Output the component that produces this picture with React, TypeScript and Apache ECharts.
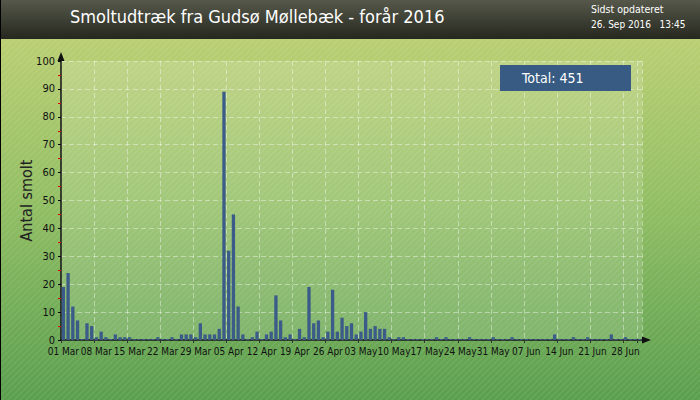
import React, { useEffect, useRef } from "react";
import * as echarts from "echarts";

const TITLE = "Smoltudtræk fra Gudsø Møllebæk - forår 2016";
const UPDATED_LABEL = "Sidst opdateret";
const UPDATED_TIME = "26. Sep 2016   13:45";
const Y_NAME = "Antal smolt";
const TOTAL_PREFIX = "Total: ";
const MONTHS = ["Jan", "Feb", "Mar", "Apr", "May", "Jun", "Jul", "Aug", "Sep", "Oct", "Nov", "Dec"];
const START_YEAR = 2016;
const START_MONTH = 2; // March (0-based)

// Daily smolt counts, 1 Mar - 1 Jul 2016
const marchCounts = [19, 24, 12, 7, 0, 6, 5, 1, 3, 1, 0, 2, 1, 1, 1, 0, 0, 0, 0, 0, 1, 0, 0, 1, 0, 2, 2, 2, 1, 6, 2];
const aprilCounts = [2, 2, 4, 89, 32, 45, 12, 2, 0, 1, 3, 0, 2, 3, 16, 7, 1, 2, 0, 4, 1, 19, 6, 7, 1, 3, 18, 3, 8, 5];
const mayCounts = [6, 2, 3, 10, 4, 5, 4, 4, 1, 0, 1, 1, 0, 0, 0, 0, 0, 0, 1, 0, 1, 0, 0, 0, 0, 1, 0, 0, 0, 0, 1];
const juneCounts = [0, 0, 0, 1, 0, 0, 0, 0, 0, 0, 0, 0, 2, 0, 0, 0, 1, 0, 0, 1, 0, 0, 0, 0, 2, 0, 0, 1, 0, 0];
const julyCounts = [0];

const Y_MIN = 0;
const Y_MAX = 100;
const Y_INTERVAL = 10;
const LABEL_EVERY_DAYS = 7;

const FONT = "'DejaVu Sans Condensed', sans-serif";

const STRIPE_SVG =
  "<svg xmlns='http://www.w3.org/2000/svg' width='6' height='6'>" +
  "<path d='M-1,1 L1,-1 M0,6 L6,0 M5,7 L7,5' stroke='rgba(255,255,255,0.09)' stroke-width='1.2'/></svg>";
const STRIPE_URL = "data:image/svg+xml;charset=utf-8," + encodeURIComponent(STRIPE_SVG);

export default function App() {
  const ref = useRef<HTMLDivElement>(null);

  useEffect(() => {
    if (!ref.current) return;
    const chart = echarts.init(ref.current, null, { renderer: "svg" });

    const values = [...marchCounts, ...aprilCounts, ...mayCounts, ...juneCounts, ...julyCounts];
    const categories = values.map((_, i) => {
      const d = new Date(START_YEAR, START_MONTH, 1 + i);
      return `${String(d.getDate()).padStart(2, "0")} ${MONTHS[d.getMonth()]}`;
    });
    const total = values.reduce((a, b) => a + b, 0);

    chart.setOption({
      animation: false,
      graphic: [
        {
          type: "rect",
          z: -100,
          shape: { x: 0, y: 0, width: 700, height: 400 },
          style: {
            fill: {
              type: "linear", x: 0, y: 0, x2: 0, y2: 1,
              colorStops: [
                { offset: 0, color: "#c4d277" },
                { offset: 0.5, color: "#93bf64" },
                { offset: 1, color: "#5a9f4f" },
              ],
            },
          },
        },
        {
          type: "rect",
          z: -90,
          shape: { x: 0, y: 0, width: 700, height: 39 },
          style: {
            fill: {
              type: "linear", x: 0, y: 0, x2: 0, y2: 1,
              colorStops: [
                { offset: 0, color: "#55584a" },
                { offset: 1, color: "#26281f" },
              ],
            },
          },
        },
        {
          type: "rect",
          z: -80,
          silent: true,
          shape: { x: 0, y: 39, width: 700, height: 361 },
          style: {
            fill: { image: STRIPE_URL, repeat: "repeat", imageWidth: 6, imageHeight: 6 },
          },
        },
        {
          type: "line",
          z: 50,
          shape: { x1: 0.5, y1: 0, x2: 0.5, y2: 400 },
          style: { stroke: "#000", lineWidth: 1 },
        },
        {
          type: "text",
          z: 50,
          left: 70,
          top: 7,
          style: { text: TITLE, fill: "#ffffff", fontSize: 18, fontFamily: FONT },
        },
        {
          type: "text",
          z: 50,
          left: 591,
          top: 3,
          style: { text: UPDATED_LABEL, fill: "#ffffff", fontSize: 10.5, fontFamily: FONT },
        },
        {
          type: "text",
          z: 50,
          left: 591,
          top: 19,
          style: { text: UPDATED_TIME, fill: "#ffffff", fontSize: 10, fontFamily: FONT },
        },
        {
          type: "rect",
          z: 60,
          shape: { x: 500, y: 65, width: 131, height: 26 },
          style: { fill: "#375b82" },
        },
        {
          type: "text",
          z: 61,
          x: 522,
          y: 78,
          style: {
            text: TOTAL_PREFIX + total,
            fill: "#ffffff",
            fontSize: 14,
            fontFamily: FONT,
            verticalAlign: "middle",
          },
        },
      ],
      grid: {
        left: 61,
        right: 58,
        top: 61,
        bottom: 60,
        show: true,
        backgroundColor: "rgba(255,255,255,0.14)",
        borderWidth: 0,
      },
      xAxis: {
        type: "category",
        data: categories,
        boundaryGap: true,
        axisLine: {
          show: true,
          symbol: ["none", "triangle"],
          symbolSize: [7, 9],
          symbolOffset: [0, 4.5],
          lineStyle: { color: "#111", width: 1.5 },
        },
        axisTick: {
          show: true,
          interval: LABEL_EVERY_DAYS - 1,
          length: 3,
          lineStyle: { color: "#333" },
        },
        axisLabel: {
          interval: 0,
          hideOverlap: false,
          formatter: (value: string, index: number) =>
            index % LABEL_EVERY_DAYS === 0 ? value : "",
          fontSize: 10,
          fontFamily: FONT,
          color: "#111",
          margin: 6,
        },
        splitLine: {
          show: true,
          interval: LABEL_EVERY_DAYS - 1,
          lineStyle: { color: "rgba(255,255,255,0.4)", type: [5, 3], width: 1 },
        },
      },
      yAxis: {
        type: "value",
        min: Y_MIN,
        max: Y_MAX,
        interval: Y_INTERVAL,
        name: Y_NAME,
        nameLocation: "middle",
        nameRotate: 90,
        nameGap: 27,
        nameMoveOverlap: false,
        nameTextStyle: { fontSize: 16, fontFamily: FONT, color: "#222" },
        axisLine: {
          show: true,
          symbol: ["none", "triangle"],
          symbolSize: [7, 9],
          symbolOffset: [0, 4.5],
          lineStyle: { color: "#111", width: 1.5 },
        },
        axisTick: { show: true, length: 3, lineStyle: { color: "#000" } },
        minorTick: { show: true, splitNumber: 2, length: 3, lineStyle: { color: "#e00000" } },
        axisLabel: { fontSize: 11, fontFamily: FONT, color: "#111", margin: 6 },
        splitLine: {
          show: true,
          lineStyle: { color: "rgba(255,255,255,0.4)", type: [5, 3], width: 1 },
        },
      },
      series: [
        {
          type: "bar",
          data: values,
          barWidth: 3.3,
          barMinHeight: 1,
          itemStyle: { color: "#3b5b88" },
        },
      ],
    });

    return () => chart.dispose();
  }, []);

  return (
    <div
      ref={ref}
      style={{ position: "absolute", left: 0, top: 0, width: 700, height: 400 }}
    />
  );
}
